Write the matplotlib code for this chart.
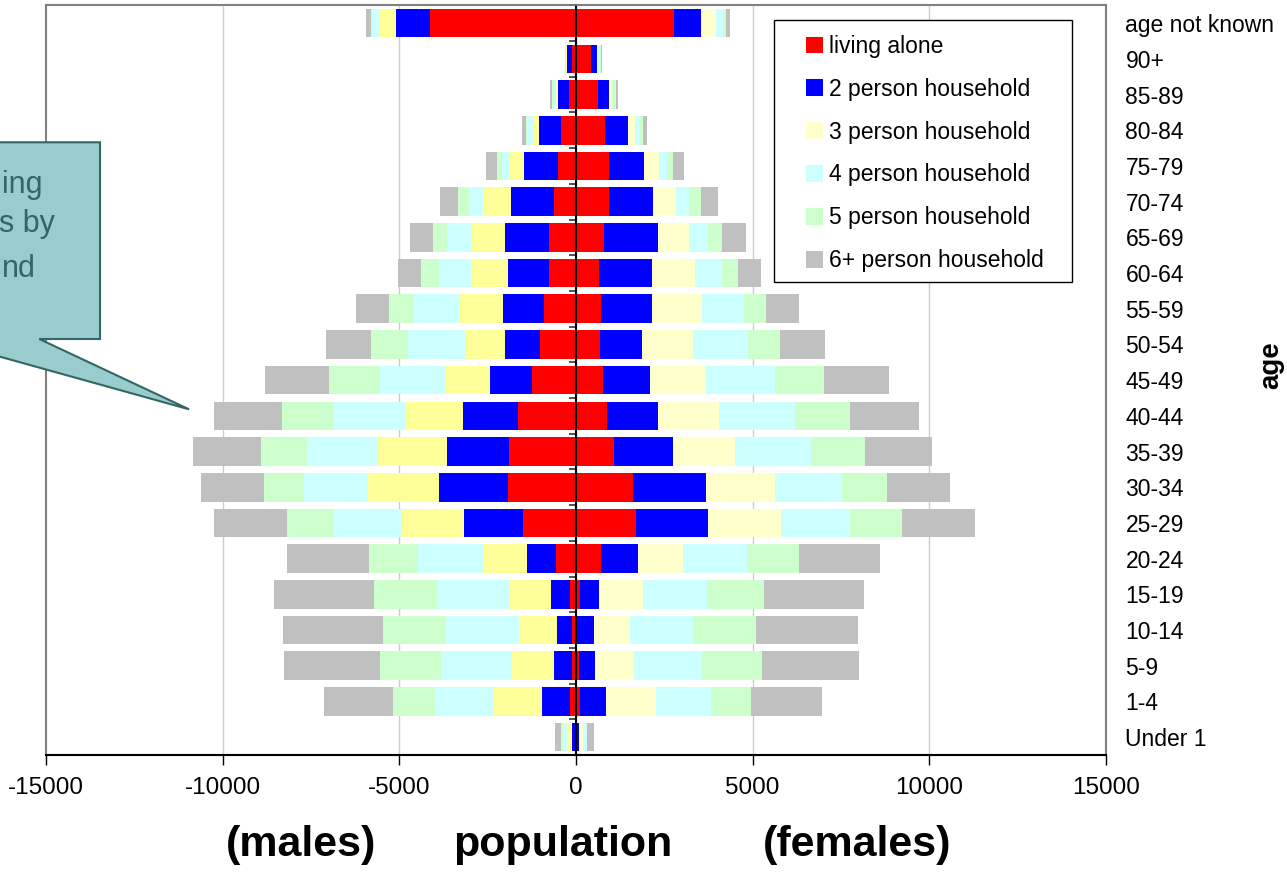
import numpy as np
import matplotlib.pyplot as plt
from matplotlib.patches import Polygon, Rectangle

plt.rcParams['font.family'] = ['Liberation Sans', 'DejaVu Sans']
plt.rcParams['axes.unicode_minus'] = False

AGES = ['Under 1', '1-4', '5-9', '10-14', '15-19', '20-24', '25-29', '30-34',
        '35-39', '40-44', '45-49', '50-54', '55-59', '60-64', '65-69', '70-74',
        '75-79', '80-84', '85-89', '90+', 'age not known']

HOUSEHOLDS = ['living alone', '2 person household', '3 person household',
              '4 person household', '5 person household', '6+ person household']

# males, by household size (Under 1 ... age not known)
M_ALONE = [5, 170, 115, 115, 170, 565, 1495, 1925, 1895, 1645, 1245, 1015, 900, 765, 765, 620, 500, 420, 210, 125, 4135]
M_TWO = [110, 795, 505, 420, 530, 815, 1675, 1950, 1760, 1550, 1185, 995, 1165, 1160, 1245, 1225, 965, 630, 295, 125, 955]
M_THREE = [135, 1380, 1205, 1070, 1195, 1225, 1780, 2000, 1945, 1635, 1265, 1130, 1245, 1040, 930, 775, 430, 170, 90, 25, 460]
M_FOUR = [125, 1645, 2000, 2070, 2040, 1865, 1895, 1820, 2010, 2020, 1855, 1610, 1275, 910, 710, 410, 200, 170, 30, 20, 230]
M_FIVE = [45, 1195, 1725, 1790, 1780, 1400, 1330, 1130, 1300, 1475, 1445, 1050, 700, 510, 390, 310, 135, 30, 60, 15, 20]
M_SIX = [180, 1945, 2710, 2830, 2825, 2305, 2065, 1790, 1925, 1915, 1810, 1280, 945, 640, 660, 500, 315, 110, 50, 10, 150]

# females
F_ALONE = [10, 115, 85, 20, 115, 710, 1695, 1615, 1070, 880, 765, 680, 710, 650, 795, 940, 940, 825, 610, 420, 2775]
F_TWO = [80, 735, 450, 485, 535, 1040, 2040, 2070, 1675, 1445, 1330, 1185, 1445, 1500, 1530, 1240, 985, 650, 325, 175, 765]
F_THREE = [110, 1415, 1110, 1025, 1245, 1290, 2065, 1950, 1750, 1720, 1590, 1445, 1415, 1215, 870, 650, 430, 200, 67, 40, 420]
F_FOUR = [115, 1550, 1920, 1780, 1820, 1800, 1960, 1895, 2145, 2150, 1950, 1560, 1185, 765, 535, 365, 210, 135, 20, 40, 190]
F_FIVE = [10, 1140, 1695, 1780, 1605, 1475, 1465, 1275, 1540, 1560, 1385, 900, 620, 450, 400, 345, 180, 85, 100, 30, 95]
F_SIX = [180, 2010, 2745, 2890, 2830, 2285, 2065, 1780, 1895, 1950, 1840, 1280, 940, 650, 680, 480, 305, 115, 60, 30, 115]

MALES = [M_ALONE, M_TWO, M_THREE, M_FOUR, M_FIVE, M_SIX]
FEMALES = [F_ALONE, F_TWO, F_THREE, F_FOUR, F_FIVE, F_SIX]
COLORS_M = ['#FF0000', '#0000FF', '#FFFF99', '#CCFFFF', '#CCFFCC', '#C0C0C0']
COLORS_F = ['#FF0000', '#0000FF', '#FFFFCC', '#CCFFFF', '#CCFFCC', '#C0C0C0']

fig = plt.figure(figsize=(12.87, 8.72), dpi=100)
ax = fig.add_axes([0.03574, 0.13417, 0.8236, 0.85975])

y = np.arange(len(AGES))
left_m = np.zeros(len(AGES))
left_f = np.zeros(len(AGES))
for vm, vf, cm_, cf, name in zip(MALES, FEMALES, COLORS_M, COLORS_F, HOUSEHOLDS):
    vm = np.array(vm, dtype=float)
    vf = np.array(vf, dtype=float)
    ax.barh(y, -vm, left=-left_m, height=0.8, color=cm_, linewidth=0)
    ax.barh(y, vf, left=left_f, height=0.8, color=cf, linewidth=0, label=name)
    left_m += vm
    left_f += vf

ax.set_xlim(-15000, 15000)
ax.set_ylim(-0.5, len(AGES) - 0.5)

# x axis
ax.set_xticks(np.arange(-15000, 15001, 5000))
ax.tick_params(axis='x', direction='out', length=7, width=1, labelsize=17.5, pad=9)
ax.grid(axis='x', color='#cccccc', linewidth=1)
ax.set_axisbelow(True)
gl = ax.get_xgridlines()
gl[0].set_visible(False)
gl[-1].set_visible(False)

# category axis sits at zero, labels out on the right
ax.set_yticks(y)
ax.set_yticklabels(AGES)
ax.set_yticks(np.arange(-0.5, len(AGES), 1), minor=True)
ax.tick_params(axis='y', which='major', left=False, right=False,
               labelleft=False, labelright=True, labelsize=16.5, pad=10.5)
ax.tick_params(axis='y', which='minor', left=True, right=False,
               direction='out', length=5, width=1.2, color='#333333')
ax.spines['left'].set_position(('data', 0))
ax.spines['left'].set_color('black')
ax.spines['left'].set_linewidth(1.5)
ax.spines['bottom'].set_color('black')
ax.spines['bottom'].set_linewidth(1.5)
for s in ['top', 'right']:
    ax.spines[s].set_color('#808080')
    ax.spines[s].set_linewidth(1.2)
ax.patch.set_edgecolor('#808080')
ax.patch.set_linewidth(1.5)

# legend with its own box
ax.add_patch(Rectangle((0.687, 0.6313), 0.2811, 0.3491, transform=ax.transAxes,
                       facecolor='white', edgecolor='black', linewidth=1, zorder=4))
leg = ax.legend(loc='upper left', bbox_to_anchor=(0.717, 0.9604), frameon=False,
                fontsize=16.5, handlelength=0.75, handleheight=0.75,
                handletextpad=0.25, labelspacing=0.865, borderaxespad=0, borderpad=0)
leg.set_zorder(5)

# axis titles
fig.text(301 / 1287, 1 - 845 / 872, '(males)', fontsize=31, fontweight='bold', ha='center', va='center')
fig.text(563 / 1287, 1 - 845 / 872, 'population', fontsize=31, fontweight='bold', ha='center', va='center')
fig.text(857 / 1287, 1 - 845 / 872, '(females)', fontsize=31, fontweight='bold', ha='center', va='center')
fig.text(1271 / 1287, 1 - 365 / 872, 'age', fontsize=20, fontweight='bold', rotation=90,
         ha='center', va='center')

# callout
pts = [(-80, 142.3), (100, 142.3), (100, 339), (39.3, 339), (189, 409.3), (-63.6, 339), (-80, 339)]
pts = [(px / 1287, 1 - py / 872) for px, py in pts]
fig.add_artist(Polygon(pts, closed=True, transform=fig.transFigure, facecolor='#99CCCC',
                       edgecolor='#336666', linewidth=1.5, zorder=6))
for txt, px, py in [('ing', 42.7, 193.3), ('s by', 55, 231.7), ('nd', 35.7, 276.7)]:
    fig.text(px / 1287, 1 - py / 872, txt, fontsize=22, color='#336666',
             ha='right', va='baseline', zorder=7)

fig.savefig('out.png', dpi=100)
